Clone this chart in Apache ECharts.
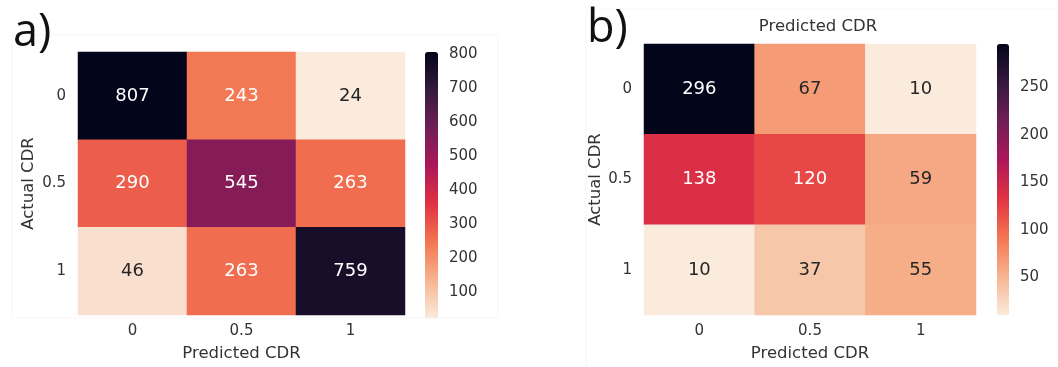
<!DOCTYPE html>
<html>
<head>
<meta charset="utf-8">
<script src="https://cdn.jsdelivr.net/npm/echarts@6/dist/echarts.min.js"></script>
<style>
html,body{margin:0;padding:0;background:#fff;}
#chart{width:1058px;height:367px;}
</style>
</head>
<body>
<div id="chart"></div>
<script>
// ---- data ----
const predictedCats = ['0', '0.5', '1'];
const actualCats = ['0', '0.5', '1'];
// rows = actual CDR, columns = predicted CDR
const matrixA = [
  [807, 243, 24],
  [290, 545, 263],
  [46, 263, 759]
];
const matrixB = [
  [296, 67, 10],
  [138, 120, 59],
  [10, 37, 55]
];
const colorbarTicksA = [100, 200, 300, 400, 500, 600, 700, 800];
const colorbarTicksB = [50, 100, 150, 200, 250];
// seaborn "rocket_r" colormap stops (light -> dark)
const rocketR = ['#faebdd', '#f6b48f', '#f37651', '#e13342', '#ad1759', '#701f57', '#35193e', '#03051a'];

const FONT = 'DejaVu Sans';
const TXT = '#333333';

function range(m) {
  const flat = m.flat();
  return [Math.min(...flat), Math.max(...flat)];
}
function buildData(m) {
  const [lo, hi] = range(m);
  const out = [];
  m.forEach((row, r) => row.forEach((v, c) => {
    const t = (v - lo) / (hi - lo);
    out.push({ value: [c, r, v], label: { color: t > 0.25 ? '#ffffff' : '#262626' } });
  }));
  return out;
}
const [minA, maxA] = range(matrixA);
const [minB, maxB] = range(matrixB);

function catAxis(gridIndex, isY, extra) {
  return Object.assign({
    type: 'category',
    gridIndex: gridIndex,
    data: isY ? actualCats : predictedCats,
    inverse: isY,
    axisLine: { show: false },
    axisTick: { show: false },
    splitLine: { show: false },
    axisLabel: { color: TXT, fontFamily: FONT, fontSize: 15, margin: isY ? 12 : 9 },
    nameLocation: 'middle',
    nameTextStyle: { color: TXT, fontFamily: FONT, fontSize: 16.5 }
  }, extra);
}
function cbAxis(gridIndex, lo, hi, ticks) {
  return {
    type: 'value', gridIndex: gridIndex, min: lo, max: hi, position: 'right',
    axisLine: { show: false },
    splitLine: { show: false },
    axisTick: { show: true, length: 5, lineStyle: { color: TXT }, customValues: ticks },
    axisLabel: { show: true, color: TXT, fontFamily: FONT, fontSize: 15, margin: 11, customValues: ticks }
  };
}

const option = {
  backgroundColor: '#ffffff',
  animation: false,
  title: [
    { text: 'a)', left: 8, top: 6, textStyle: { fontFamily: 'Open Sans', fontSize: 45, fontWeight: 'normal', color: '#111' } },
    { text: 'b)', left: 582, top: 2, textStyle: { fontFamily: 'Open Sans', fontSize: 45, fontWeight: 'normal', color: '#111' } },
    { text: 'Predicted CDR', left: 813, top: 13, textAlign: 'center', textStyle: { fontFamily: FONT, fontSize: 16.5, fontWeight: 'normal', color: TXT } }
  ],
  graphic: [
    { type: 'rect', shape: { x: 12, y: 35, width: 486, height: 283 }, style: { fill: 'none', stroke: '#f5f5f5', lineWidth: 1 }, z: -10 },
    { type: 'line', shape: { x1: 586, y1: 9, x2: 586, y2: 367 }, style: { stroke: '#f5f5f5', lineWidth: 1 }, z: -10 },
    { type: 'line', shape: { x1: 586, y1: 9, x2: 1058, y2: 9 }, style: { stroke: '#f7f7f7', lineWidth: 1 }, z: -10 }
  ],
  grid: [
    { left: 78, top: 52, width: 327, height: 266 },
    { left: 644, top: 44, width: 332, height: 271 },
    { left: 425, top: 52, width: 13, height: 266 },
    { left: 997, top: 44, width: 12, height: 271 }
  ],
  xAxis: [
    catAxis(0, false, { name: 'Predicted CDR', nameGap: 30 }),
    catAxis(1, false, { name: 'Predicted CDR', nameGap: 30 }),
    { type: 'value', gridIndex: 2, show: false },
    { type: 'value', gridIndex: 3, show: false }
  ],
  yAxis: [
    catAxis(0, true, { name: 'Actual CDR', nameGap: 41 }),
    catAxis(1, true, { name: 'Actual CDR', nameGap: 40 }),
    cbAxis(2, minA, maxA, colorbarTicksA),
    cbAxis(3, minB, maxB, colorbarTicksB)
  ],
  visualMap: [
    { type: 'continuous', seriesIndex: 0, min: minA, max: maxA, calculable: false, orient: 'vertical',
      left: 425, top: 52, itemWidth: 13, itemHeight: 266, padding: 0, text: null, showLabel: false,
      inRange: { color: rocketR } },
    { type: 'continuous', seriesIndex: 1, min: minB, max: maxB, calculable: false, orient: 'vertical',
      left: 997, top: 44, itemWidth: 12, itemHeight: 271, padding: 0, text: null, showLabel: false,
      inRange: { color: rocketR } }
  ],
  series: [
    { type: 'heatmap', xAxisIndex: 0, yAxisIndex: 0, data: buildData(matrixA),
      label: { show: true, fontFamily: FONT, fontSize: 18 }, itemStyle: { borderWidth: 0 }, emphasis: { disabled: true } },
    { type: 'heatmap', xAxisIndex: 1, yAxisIndex: 1, data: buildData(matrixB),
      label: { show: true, fontFamily: FONT, fontSize: 18 }, itemStyle: { borderWidth: 0 }, emphasis: { disabled: true } }
  ]
};
const chart = echarts.init(document.getElementById('chart'), null, { renderer: 'canvas' });
chart.setOption(option);
</script>
</body>
</html>
